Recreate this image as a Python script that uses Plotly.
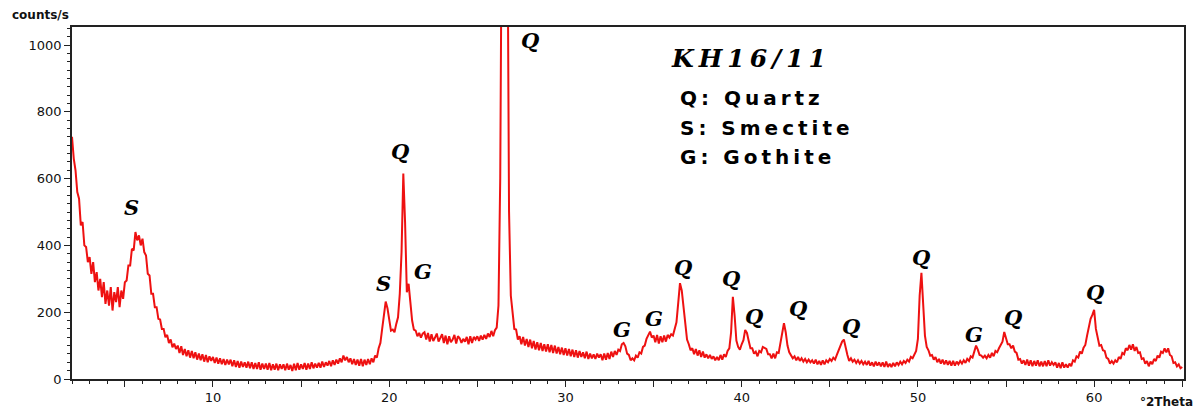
import numpy as np
import plotly.graph_objects as go

# 2-theta scan grid (degrees), step 0.1
two_theta = np.round(np.arange(2.0, 65.05, 0.1), 1)

# intensities (counts/s), one row per degree
counts = [
    725, 660, 625, 560, 540, 460, 470, 400, 395, 350,      # 2
    365, 315, 350, 290, 320, 265, 300, 245, 290, 225,      # 3
    265, 220, 275, 205, 260, 230, 275, 215, 265, 240,      # 4
    290, 295, 340, 340, 390, 385, 440, 415, 430, 400,      # 5
    420, 380, 370, 315, 310, 255, 255, 215, 215, 180,      # 6
    178, 150, 150, 125, 132, 108, 118, 95, 106, 90,        # 7
    100, 78, 98, 72, 90, 68, 86, 64, 84, 62,               # 8
    80, 58, 76, 56, 74, 52, 72, 50, 68, 54,                # 9
    66, 48, 64, 46, 62, 44, 60, 42, 58, 44,                # 10
    58, 38, 56, 36, 54, 34, 52, 36, 50, 34,                # 11
    52, 32, 50, 30, 48, 30, 50, 28, 46, 30,                # 12
    46, 28, 48, 26, 44, 28, 46, 26, 44, 30,                # 13
    44, 26, 46, 28, 42, 24, 46, 26, 48, 28,                # 14
    44, 30, 48, 28, 46, 30, 50, 32, 46, 34,                # 15
    48, 34, 52, 36, 50, 40, 54, 38, 56, 42,                # 16
    58, 46, 62, 50, 70, 56, 66, 50, 62, 44,                # 17
    60, 42, 58, 40, 60, 38, 58, 42, 60, 44,                # 18
    62, 50, 70, 64, 92, 108, 150, 200, 232, 212,           # 19
    180, 145, 148, 140, 165, 185, 255, 380, 615, 470,      # 20
    260, 285, 230, 175, 148, 145, 128, 138, 124, 136,      # 21
    140, 118, 138, 112, 134, 114, 124, 136, 112, 126,      # 22
    134, 108, 130, 104, 128, 110, 118, 132, 106, 128,      # 23
    122, 108, 120, 112, 126, 104, 128, 108, 126, 118,      # 24
    128, 114, 130, 118, 132, 120, 136, 126, 144, 128,      # 25
    146, 154, 220, 600, 1500, 3000, 3400, 1500, 500, 250,  # 26
    190, 150, 148, 118, 128, 104, 126, 100, 120, 96,       # 27
    118, 92, 114, 88, 110, 86, 108, 84, 104, 82,           # 28
    104, 80, 102, 78, 100, 76, 96, 74, 94, 72,             # 29
    92, 70, 90, 68, 88, 66, 86, 64, 84, 66,                # 30
    80, 62, 82, 60, 76, 62, 74, 60, 76, 64,                # 31
    74, 56, 76, 58, 78, 60, 82, 66, 84, 72,                # 32
    88, 84, 104, 108, 98, 76, 72, 56, 62, 56,              # 33
    70, 64, 80, 76, 96, 100, 120, 134, 142, 124,           # 34
    130, 110, 132, 106, 128, 110, 130, 112, 132, 124,      # 35
    134, 130, 155, 170, 228, 287, 265, 220, 160, 118,      # 36
    104, 86, 92, 74, 90, 70, 86, 66, 82, 64,               # 37
    74, 62, 72, 60, 68, 56, 66, 56, 72, 58,                # 38
    74, 66, 84, 92, 140, 246, 190, 115, 96, 88,            # 39
    104, 116, 147, 138, 114, 92, 92, 76, 82, 68,           # 40
    84, 80, 96, 94, 90, 74, 74, 62, 76, 62,                # 41
    80, 78, 105, 140, 167, 140, 100, 80, 72, 62,           # 42
    68, 56, 66, 54, 62, 52, 60, 50, 58, 50,                # 43
    56, 46, 58, 44, 54, 42, 56, 44, 56, 50,                # 44
    60, 54, 64, 58, 72, 86, 100, 112, 118, 90,             # 45
    72, 54, 62, 52, 58, 48, 56, 46, 54, 44,                # 46
    52, 42, 54, 40, 50, 38, 52, 40, 50, 38,                # 47
    50, 36, 52, 36, 46, 36, 48, 38, 50, 42,                # 48
    52, 44, 54, 48, 58, 52, 66, 62, 74, 84,                # 49
    120, 250, 318, 210, 130, 96, 86, 70, 72, 58,           # 50
    66, 50, 60, 46, 58, 44, 56, 42, 54, 40,                # 51
    54, 40, 52, 44, 54, 46, 56, 48, 60, 54,                # 52
    68, 64, 84, 100, 88, 72, 70, 64, 70, 62,               # 53
    72, 64, 78, 68, 84, 80, 92, 100, 112, 141,             # 54
    120, 104, 104, 92, 100, 82, 78, 58, 60, 46,            # 55
    56, 42, 58, 40, 56, 38, 54, 40, 56, 38,                # 56
    52, 38, 54, 38, 56, 40, 50, 42, 50, 34,                # 57
    48, 32, 50, 34, 44, 34, 46, 38, 56, 52,                # 58
    68, 64, 82, 76, 94, 102, 130, 160, 180, 192,           # 59
    207, 150, 124, 100, 102, 86, 84, 64, 60, 46,           # 60
    54, 46, 56, 50, 66, 60, 78, 74, 92, 86,                # 61
    102, 88, 104, 84, 96, 78, 80, 60, 62, 46,              # 62
    54, 38, 52, 44, 60, 54, 70, 64, 82, 78,                # 63
    92, 80, 92, 72, 68, 48, 50, 38, 44, 32,                # 64
    36,                                                    # 65
]

# peak labels: (text, 2theta, counts)
peak_text = ["S", "S", "Q", "G", "Q", "G", "G", "Q", "Q", "Q", "Q", "Q", "Q", "G", "Q", "Q"]
peak_x = [5.4, 19.66, 20.63, 21.93, 28.0, 33.2, 35.0, 36.65, 39.4, 40.7, 43.2, 46.2, 50.2, 53.2, 55.4, 60.05]
peak_y = [515, 287, 680, 323, 1015, 147, 180, 335, 302, 188, 212, 158, 364, 132, 184, 258]

sample_name = "KH16/11"
legend_lines = ["Q: Quartz", "S: Smectite", "G: Gothite"]

x_tickvals = [5, 10, 15, 20, 25, 30, 35, 40, 45, 50, 55, 60, 65]
x_ticktext = ["", "10", "", "20", "", "30", "", "40", "", "50", "", "60", ""]

THIN = "\u2009"


def spaced(s):
    return THIN.join(list(s))


fig = go.Figure()
fig.add_trace(go.Scatter(
    x=two_theta, y=counts, mode="lines",
    line=dict(color="#ee1111", width=2),
    showlegend=False, hoverinfo="skip",
))

for t, px, py in zip(peak_text, peak_x, peak_y):
    fig.add_annotation(
        x=px, y=py, text=f"<b><i>{t}</i></b>", showarrow=False,
        font=dict(family="DejaVu Serif", size=21, color="black"),
        xref="x", yref="y",
    )

fig.add_annotation(
    x=40.4, y=961, text=f"<b><i>{spaced(sample_name)}</i></b>", showarrow=False,
    font=dict(family="DejaVu Serif", size=25, color="black"),
    xref="x", yref="y",
)
for i, line in enumerate(legend_lines):
    fig.add_annotation(
        x=36.4, y=841 - i * 88, text=f"<b>{spaced(line)}</b>", showarrow=False,
        xanchor="left",
        font=dict(family="DejaVu Sans", size=20, color="black"),
        xref="x", yref="y",
    )

fig.add_annotation(
    x=-0.056, y=1.034, xref="paper", yref="paper", text="<b>counts/s</b>",
    showarrow=False, xanchor="left", yanchor="middle",
    font=dict(family="DejaVu Sans", size=12, color="#111"),
)
fig.add_annotation(
    x=1.01, y=-0.065, xref="paper", yref="paper", text="<b>°2Theta</b>",
    showarrow=False, xanchor="right", yanchor="middle",
    font=dict(family="DejaVu Sans", size=12, color="#111"),
)

axis_font = dict(family="DejaVu Sans", size=13, color="#111")
fig.update_xaxes(
    range=[2.0, 65.1], tickmode="array", tickvals=x_tickvals, ticktext=x_ticktext,
    ticks="outside", ticklen=6, tickwidth=1, tickcolor="#222",
    minor=dict(ticks="outside", dtick=1, tick0=0, ticklen=3, tickcolor="#222"),
    showline=True, linecolor="#222", linewidth=1.5, mirror=True,
    showgrid=False, zeroline=False, tickfont=axis_font,
)
fig.update_yaxes(
    range=[0, 1054], dtick=200, tick0=0,
    ticks="outside", ticklen=6, tickwidth=1, tickcolor="#222",
    minor=dict(ticks="outside", dtick=25, tick0=0, ticklen=3, tickcolor="#222"),
    showline=True, linecolor="#222", linewidth=1.5, mirror=True,
    showgrid=False, zeroline=False, tickfont=axis_font,
)
fig.update_layout(
    width=1197, height=410,
    margin=dict(l=72, r=13, t=27, b=31, autoexpand=False),
    paper_bgcolor="white", plot_bgcolor="white",
)
fig.write_html(
    "out.html",
    config={"displayModeBar": False},
    post_script="document.body.style.margin='0';",
)
